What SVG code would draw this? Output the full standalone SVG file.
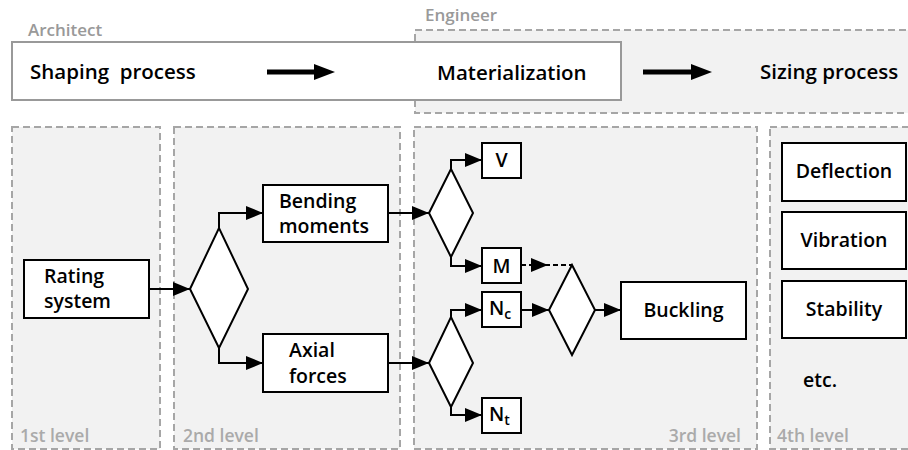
<svg xmlns="http://www.w3.org/2000/svg" width="908" height="450" viewBox="0 0 908 450">
  <defs>
    <marker id="arrow" viewBox="0 0 17 14" refX="17" refY="7" markerWidth="17" markerHeight="14" markerUnits="userSpaceOnUse" orient="auto">
      <path d="M0,0 L17,7 L0,14 Z" fill="#000"/>
    </marker>
    <marker id="bigArrow" viewBox="0 0 21 16" refX="0" refY="8" markerWidth="21" markerHeight="16" markerUnits="userSpaceOnUse" orient="auto">
      <path d="M0,0 L21,8 L0,16 Z" fill="#000"/>
    </marker>
  </defs>
  <style>
    text { font-family: "Open Sans", "Noto Sans", "DejaVu Sans", sans-serif; font-weight: 600; }
    .zone { fill: #f2f2f2; stroke: #a6a6a6; stroke-width: 2; stroke-dasharray: 7 4; }
    .role { font-size: 17px; fill: #999; }
    .level { font-size: 17.5px; fill: #aaa; }
    .box { fill: #fff; stroke: #000; stroke-width: 2; }
    .dia { fill: #fff; stroke: #000; stroke-width: 2; stroke-linejoin: miter; }
    .lbl { font-size: 19.5px; fill: #000; }
    .big { font-size: 20.5px; fill: #000; }
    .sub { font-size: 14px; }
    .link { fill: none; stroke: #000; stroke-width: 2; marker-end: url(#arrow); }
    .flow { fill: none; stroke: #000; stroke-width: 5; marker-end: url(#bigArrow); }
  </style>

  <!-- process band -->
  <g id="engineer">
    <rect class="zone" x="415" y="30" width="500" height="83"/>
    <text class="role" x="425" y="21">Engineer</text>
  </g>
  <g id="architect">
    <rect x="12" y="42" width="609" height="58" fill="#fff" stroke="#999" stroke-width="2"/>
    <text class="role" x="28" y="36">Architect</text>
  </g>
  <g id="shaping"><text class="big" x="30" y="79" xml:space="preserve">Shaping  process</text></g>
  <g id="materialization"><text class="big" x="437" y="80">Materialization</text></g>
  <g id="sizing"><text class="big" x="760" y="79">Sizing process</text></g>

  <!-- levels -->
  <g id="level1">
    <rect class="zone" x="12" y="127" width="148" height="322"/>
    <text class="level" x="20" y="442">1st level</text>
  </g>
  <g id="level2">
    <rect class="zone" x="174" y="127" width="226" height="322"/>
    <text class="level" x="183" y="442">2nd level</text>
  </g>
  <g id="level3">
    <rect class="zone" x="414" y="127" width="343" height="322"/>
    <text class="level" x="741" y="442" text-anchor="end">3rd level</text>
  </g>
  <g id="level4">
    <rect class="zone" x="770" y="127" width="150" height="322"/>
    <text class="level" x="777" y="442">4th level</text>
  </g>

  <!-- nodes -->
  <g id="rating">
    <rect class="box" x="24" y="260" width="125" height="58"/>
    <text class="lbl" x="44" y="283">Rating</text>
    <text class="lbl" x="44" y="308">system</text>
  </g>
  <g id="split1"><path class="dia" d="M190,289 L219,228 L248,289 L219,348 Z"/></g>
  <g id="bending">
    <rect class="box" x="263" y="185" width="125" height="57"/>
    <text class="lbl" x="279" y="208">Bending</text>
    <text class="lbl" x="279" y="233">moments</text>
  </g>
  <g id="axial">
    <rect class="box" x="263" y="334" width="125" height="58"/>
    <text class="lbl" x="289" y="357">Axial</text>
    <text class="lbl" x="289" y="383">forces</text>
  </g>
  <g id="split2"><path class="dia" d="M429,213 L451,169 L473,213 L451,257 Z"/></g>
  <g id="split3"><path class="dia" d="M429,363 L451,317 L473,363 L451,407 Z"/></g>
  <g id="shear">
    <rect class="box" x="482" y="143" width="39" height="35"/>
    <text class="lbl" x="501.5" y="167" text-anchor="middle">V</text>
  </g>
  <g id="moment">
    <rect class="box" x="482" y="248" width="39" height="35"/>
    <text class="lbl" x="501.5" y="273" text-anchor="middle">M</text>
  </g>
  <g id="compression">
    <rect class="box" x="482" y="292" width="39" height="35"/>
    <text class="lbl" x="489" y="315">N<tspan class="sub" dy="4">c</tspan></text>
  </g>
  <g id="tension">
    <rect class="box" x="482" y="398" width="39" height="35"/>
    <text class="lbl" x="489" y="421">N<tspan class="sub" dy="4">t</tspan></text>
  </g>
  <g id="combine"><path class="dia" d="M549,310 L572,265 L595,310 L572,355 Z"/></g>
  <g id="buckling">
    <rect class="box" x="621" y="282" width="125" height="57"/>
    <text class="lbl" x="683.5" y="317" text-anchor="middle">Buckling</text>
  </g>
  <g id="deflection">
    <rect class="box" x="782" y="143" width="124" height="58"/>
    <text class="lbl" x="844" y="178" text-anchor="middle">Deflection</text>
  </g>
  <g id="vibration">
    <rect class="box" x="782" y="212" width="124" height="57"/>
    <text class="lbl" x="844" y="247" text-anchor="middle">Vibration</text>
  </g>
  <g id="stability">
    <rect class="box" x="782" y="281" width="124" height="57"/>
    <text class="lbl" x="844" y="316" text-anchor="middle">Stability</text>
  </g>
  <g id="etc"><text class="lbl" x="803" y="387">etc.</text></g>

  <!-- connectors -->
  <g id="connectors">
    <path class="flow" d="M267,72 L314,72"/>
    <path class="flow" d="M643,72 L691,72"/>
    <path class="link" d="M149,289 L190,289"/>
    <path class="link" d="M219,228 L219,213 L263,213"/>
    <path class="link" d="M219,348 L219,363 L263,363"/>
    <path class="link" d="M388,213 L429,213"/>
    <path class="link" d="M388,363 L429,363"/>
    <path class="link" d="M451,169 L451,160 L482,160"/>
    <path class="link" d="M451,257 L451,266 L482,266"/>
    <path class="link" d="M451,317 L451,310 L482,310"/>
    <path class="link" d="M451,407 L451,415 L482,415"/>
    <path class="link" d="M521,310 L549,310"/>
    <path class="link" d="M595,310 L621,310"/>
    <path fill="none" stroke="#000" stroke-width="2" stroke-dasharray="5 3" d="M521,265 L572,265"/>
    <path class="link" d="M533,265 L548,265"/>
  </g>
</svg>
